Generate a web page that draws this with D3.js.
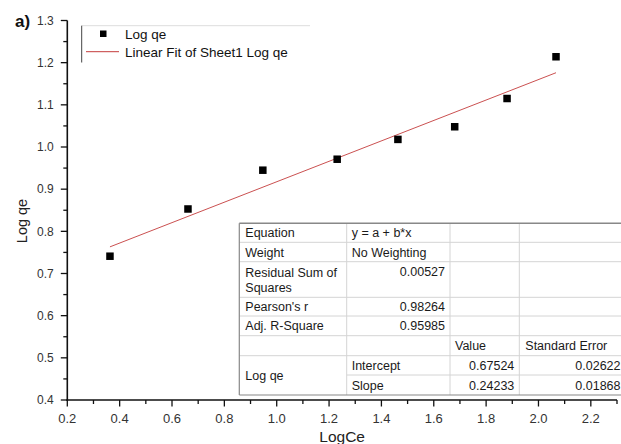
<!DOCTYPE html>
<html>
<head>
<meta charset="utf-8">
<script src="https://cdn.jsdelivr.net/npm/d3@7/dist/d3.min.js"></script>
<style>
  html, body { margin: 0; padding: 0; background: #fff; }
  svg { display: block; font-family: "Liberation Sans", Arial, sans-serif; }
</style>
</head>
<body>
<svg id="chart" width="621" height="444"></svg>
<script>
// Freundlich isotherm: log qe against log Ce, with a linear fit
const logCe = [0.363, 0.661, 0.947, 1.231, 1.463, 1.680, 1.880, 2.067];
const logQe = [0.741, 0.853, 0.945, 0.971, 1.018, 1.048, 1.115, 1.214];

const fitIntercept = 0.67524;
const fitSlope = 0.24233;

const xTicks = [0.2, 0.4, 0.6, 0.8, 1.0, 1.2, 1.4, 1.6, 1.8, 2.0, 2.2];
const yTicks = [0.4, 0.5, 0.6, 0.7, 0.8, 0.9, 1.0, 1.1, 1.2, 1.3];

const legendLabels = ["Log qe", "Linear Fit of Sheet1 Log qe"];

// Fit statistics table rows: [label, value]
const statLabels = ["Equation", "Weight", "Residual Sum of\nSquares", "Pearson's r", "Adj. R-Square"];
const statValues = ["y = a + b*x", "No Weighting", "0.00527", "0.98264", "0.95985"];
const paramHeader = ["Value", "Standard Error"];
const paramNames = ["Intercept", "Slope"];
const paramValues = ["0.67524", "0.24233"];
const paramErrors = ["0.02622", "0.01868"];
const paramGroup = "Log qe";

const svg = d3.select("#chart");

const x = d3.scaleLinear().domain([0.2, 2.3]).range([67.3, 617]);
const y = d3.scaleLinear().domain([0.4, 1.3]).range([400, 20.5]);

// Axes
const axisColor = "#111";

const xAxis = svg.append("g").attr("transform", `translate(0,${y(0.4)})`);
xAxis.append("line").attr("x1", x(0.2) - 1).attr("x2", x(2.3)).attr("stroke", axisColor).attr("stroke-width", 1.6);
const xMinor = d3.range(0.3, 2.31, 0.2);
xAxis.selectAll(".minor").data(xMinor).join("line")
  .attr("x1", d => x(d)).attr("x2", d => x(d)).attr("y1", 0).attr("y2", 4)
  .attr("stroke", axisColor).attr("stroke-width", 1.3);
xAxis.selectAll(".major").data(xTicks).join("line")
  .attr("x1", d => x(d)).attr("x2", d => x(d)).attr("y1", 0).attr("y2", 6.5)
  .attr("stroke", axisColor).attr("stroke-width", 1.3);
xAxis.selectAll("text").data(xTicks).join("text")
  .attr("x", d => x(d)).attr("y", 23)
  .attr("text-anchor", "middle").attr("font-size", 13).attr("fill", "#333")
  .text(d => d.toFixed(1));

const yAxis = svg.append("g").attr("transform", `translate(${x(0.2)},0)`);
yAxis.append("line").attr("y1", y(0.4) + 1).attr("y2", y(1.3)).attr("stroke", axisColor).attr("stroke-width", 1.6);
const yMinor = d3.range(0.45, 1.3, 0.1);
yAxis.selectAll(".minor").data(yMinor).join("line")
  .attr("y1", d => y(d)).attr("y2", d => y(d)).attr("x1", 0).attr("x2", -4)
  .attr("stroke", axisColor).attr("stroke-width", 1.3);
yAxis.selectAll(".major").data(yTicks).join("line")
  .attr("y1", d => y(d)).attr("y2", d => y(d)).attr("x1", 0).attr("x2", -6.5)
  .attr("stroke", axisColor).attr("stroke-width", 1.3);
yAxis.selectAll("text").data(yTicks).join("text")
  .attr("x", -13.5).attr("y", d => y(d) + 4.3)
  .attr("text-anchor", "end").attr("font-size", 12).attr("fill", "#333")
  .text(d => d.toFixed(1));

// Axis titles
svg.append("text").attr("x", (x(0.2) + x(2.3)) / 2).attr("y", 442)
  .attr("text-anchor", "middle").attr("font-size", 15.5).attr("fill", "#222").text("LogCe");
svg.append("text").attr("transform", "translate(27,221) rotate(-90)")
  .attr("text-anchor", "middle").attr("font-size", 14.5).attr("fill", "#222").text("Log qe");

// Panel label
svg.append("text").attr("x", 15).attr("y", 27).attr("font-size", 17).attr("font-weight", "bold")
  .attr("fill", "#111").text("a)");

// Linear fit line across the data range
const xFit = d3.extent(logCe);
svg.append("line")
  .attr("x1", x(xFit[0])).attr("y1", y(fitIntercept + fitSlope * xFit[0]))
  .attr("x2", x(xFit[1])).attr("y2", y(fitIntercept + fitSlope * xFit[1]))
  .attr("stroke", "#c43c3c").attr("stroke-width", 0.9);

// Data points
const sq = 7.5;
svg.selectAll(".pt").data(logCe).join("rect")
  .attr("x", (d) => x(d) - sq / 2).attr("y", (d, i) => y(logQe[i]) - sq / 2)
  .attr("width", sq).attr("height", sq).attr("fill", "#000");

// Legend
const lg = svg.append("g");
lg.append("line").attr("x1", 81.7).attr("x2", 310).attr("y1", 25.7).attr("y2", 25.7).attr("stroke", "#ddd").attr("stroke-width", 1);
lg.append("line").attr("x1", 81.7).attr("x2", 81.7).attr("y1", 25.7).attr("y2", 62.5).attr("stroke", "#444").attr("stroke-width", 1);
lg.append("rect").attr("x", 100).attr("y", 30.5).attr("width", 6.5).attr("height", 6.5).attr("fill", "#000");
lg.append("line").attr("x1", 86).attr("x2", 119).attr("y1", 51.7).attr("y2", 51.7).attr("stroke", "#c43c3c").attr("stroke-width", 1);
lg.selectAll("text").data(legendLabels).join("text")
  .attr("x", 125).attr("y", (d, i) => 38.5 + i * 18.3)
  .attr("font-size", 13.5).attr("fill", "#111").text(d => d);

// Fit results table
const tbl = svg.append("g");
const colX = [239.3, 346.7, 450, 519.3, 640];
const rowY = [223.3, 242.3, 261.7, 297.3, 316, 335.7, 355.7, 375, 395];
const tLeft = colX[0], tRight = colX[4], tTop = rowY[0], tBottom = rowY[rowY.length - 1];
const fs = 12.5;
const gridC = "#d4d4d4";

tbl.append("rect").attr("x", tLeft).attr("y", tTop).attr("width", tRight - tLeft).attr("height", tBottom - tTop).attr("fill", "#fff");
// inner horizontal rules
rowY.slice(1, -1).forEach((ry, i) => {
  const isSplit = i === rowY.length - 3; // between intercept and slope: not across the merged cell
  tbl.append("line").attr("x1", isSplit ? colX[1] : tLeft).attr("x2", tRight)
    .attr("y1", ry).attr("y2", ry).attr("stroke", gridC).attr("stroke-width", 1);
});
// inner vertical rules
colX.slice(1, 4).forEach(cx => {
  tbl.append("line").attr("x1", cx).attr("x2", cx).attr("y1", tTop).attr("y2", tBottom)
    .attr("stroke", gridC).attr("stroke-width", 1);
});
// outer frame
tbl.append("line").attr("x1", tLeft).attr("x2", tRight).attr("y1", tTop).attr("y2", tTop).attr("stroke", "#888").attr("stroke-width", 1.4);
tbl.append("line").attr("x1", tLeft).attr("x2", tRight).attr("y1", tBottom).attr("y2", tBottom).attr("stroke", "#888").attr("stroke-width", 1.2);
tbl.append("line").attr("x1", tLeft).attr("x2", tLeft).attr("y1", tTop).attr("y2", tBottom).attr("stroke", "#888").attr("stroke-width", 1.2);

function cellText(str, cx, ry0, ry1, anchor) {
  const lines = str.split("\n");
  const mid = (ry0 + ry1) / 2;
  const lh = 15;
  const t = tbl.append("text").attr("font-size", fs).attr("fill", "#1a1a1a").attr("text-anchor", anchor);
  lines.forEach((ln, k) => {
    t.append("tspan").attr("x", cx).attr("y", mid + 4.5 + (k - (lines.length - 1) / 2) * lh).text(ln);
  });
}

statLabels.forEach((lab, i) => {
  cellText(lab, tLeft + 6, rowY[i], rowY[i + 1], "start");
  const v = statValues[i];
  const isNum = !isNaN(parseFloat(v));
  if (isNum) {
    // numeric values are right-aligned near the top of their cell
    tbl.append("text").attr("x", colX[2] - 5).attr("y", rowY[i] + 14)
      .attr("font-size", fs).attr("fill", "#1a1a1a").attr("text-anchor", "end").text(v);
  } else {
    cellText(v, colX[1] + 5, rowY[i], rowY[i + 1], "start");
  }
});
cellText(paramHeader[0], colX[2] + 5, rowY[5], rowY[6], "start");
cellText(paramHeader[1], colX[3] + 6, rowY[5], rowY[6], "start");
cellText(paramGroup, tLeft + 6, rowY[6], rowY[8], "start");
paramNames.forEach((nm, i) => {
  cellText(nm, colX[1] + 5, rowY[6 + i], rowY[7 + i], "start");
  cellText(paramValues[i], colX[3] - 5, rowY[6 + i], rowY[7 + i], "end");
  cellText(paramErrors[i], 620.5, rowY[6 + i], rowY[7 + i], "end");
});
</script>
</body>
</html>
